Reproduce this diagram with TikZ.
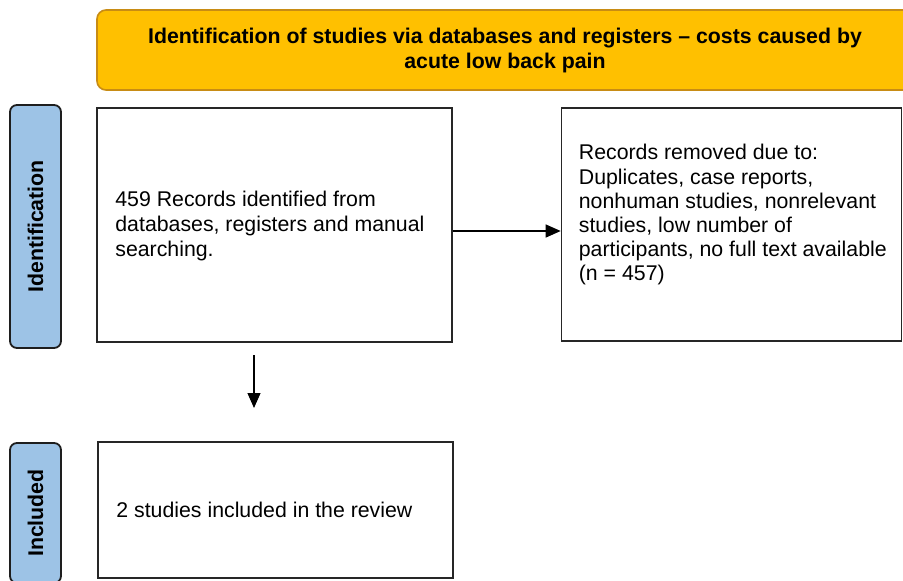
\documentclass[tikz,border=0pt]{standalone}
\usepackage{fontspec}
\setmainfont{Liberation Sans}
\usetikzlibrary{arrows.meta}
\definecolor{headfill}{RGB}{255,192,0}
\definecolor{headline}{RGB}{200,140,20}
\definecolor{tabfill}{RGB}{157,195,230}
\definecolor{tabline}{RGB}{30,30,30}
\tikzset{
  headbox/.style={draw=headline, fill=headfill, line width=1.6pt, rounded corners=9pt,
    minimum width=816pt, minimum height=80pt, align=center,
    font=\fontsize{21.3}{25}\selectfont\bfseries},
  phasetab/.style={draw=tabline, fill=tabfill, line width=1.8pt, rounded corners=7pt,
    minimum width=51pt},
  phaselabel/.style={rotate=90, font=\fontsize{21.3}{24}\selectfont\bfseries},
  recbox/.style={draw=black!85, line width=1.6pt, fill=white},
  rectext/.style={align=left, font=\fontsize{21.3}{24.2}\selectfont, inner sep=0pt},
  flow/.style={line width=1.2pt, -{Triangle[length=15pt,width=13pt]}}
}
\begin{document}
\begin{tikzpicture}[x=1pt,y=-1pt]
\useasboundingbox[fill=white] (0,0) rectangle (903,581);

% title banner
\node[headbox] (head) at (505,50) {Identification of studies via databases and registers -- costs caused by\\acute low back pain};

% phase tabs on the left
\node[phasetab, minimum height=243pt] (tabid) at (35.5,226.5) {};
\node[phaselabel] (tabidtxt) at (tabid.center) {Identification};
\node[phasetab, minimum height=140pt] (tabinc) at (35.5,513) {};
\node[phaselabel] (tabinctxt) at (tabinc.center) {Included};

% record boxes
\node[recbox, minimum width=355pt, minimum height=234pt] (found) at (274.5,225) {};
\node[rectext, font=\fontsize{21.3}{25}\selectfont, anchor=west] (foundtxt) at ([xshift=19pt,yshift=-1pt]found.west)
  {459 Records identified from\\databases, registers and manual\\searching.};

\node[recbox, minimum width=340pt, minimum height=233pt] (removed) at (731.5,224.5) {};
\node[rectext, anchor=north west] (removedtxt) at ([xshift=18pt,yshift=-37pt]removed.north west)
  {Records removed due to:\\Duplicates, case reports,\\nonhuman studies, nonrelevant\\studies, low number of\\participants, no full text available\\(n = 457)};

\node[recbox, minimum width=355pt, minimum height=136pt] (incl) at (275.5,510) {};
\node[rectext, anchor=west] (incltxt) at ([xshift=19pt]incl.west)
  {2 studies included in the review};

% connectors
\draw[flow] (found.east |- 0,231) -- (removed.west |- 0,231);
\coordinate (dstart) at (254,355);
\coordinate (dend) at (254,408);
\draw[flow] (dstart) -- (dend);
\end{tikzpicture}
\end{document}
